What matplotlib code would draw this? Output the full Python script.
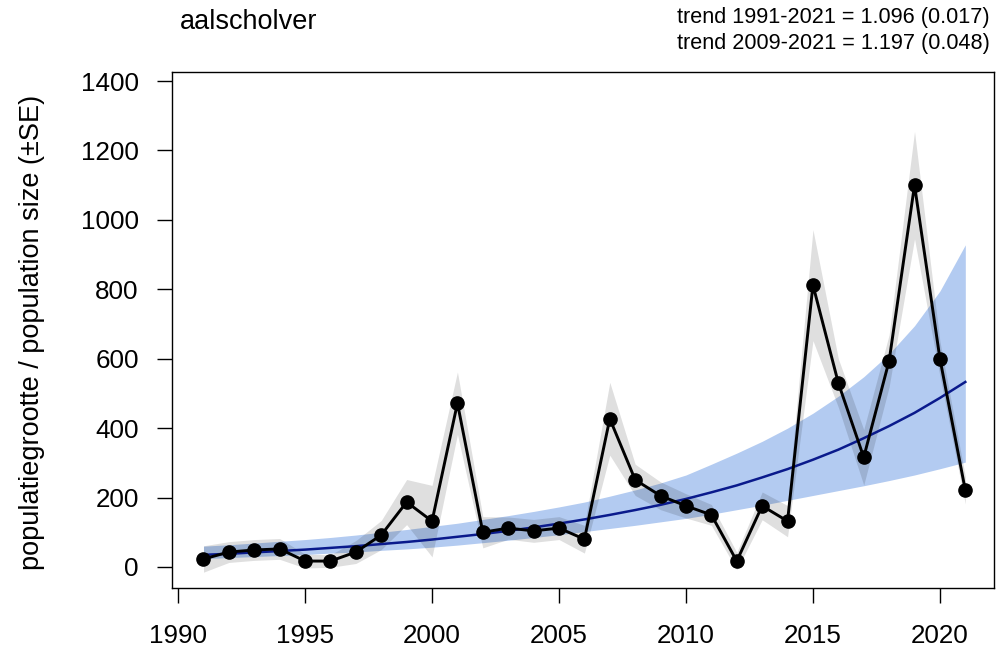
import numpy as np
import matplotlib
matplotlib.use("Agg")
import matplotlib.pyplot as plt

plt.rcParams['font.family'] = ['Liberation Sans', 'DejaVu Sans']

# jaarlijkse populatieschattingen aalscholver
years = list(range(1991, 2022))
index = [23, 43, 49, 52, 17, 17, 43, 92, 187, 132,
         472, 100, 112, 104, 112, 80, 427, 251, 205, 176,
         150, 17, 176, 132, 812, 530, 316, 594, 1100, 600,
         221]
se = [38, 30, 30, 30, 20, 18, 33, 42, 65, 103,
      90, 45, 32, 33, 33, 40, 105, 45, 40, 35,
      30, 25, 40, 45, 160, 70, 80, 75, 155, 50,
      40]

# trendlijn met betrouwbaarheidsband
trend = [35, 38, 42, 46, 50, 55, 60, 66, 72, 79,
         87, 95, 104, 114, 125, 137, 150, 164, 179, 196,
         215, 235, 258, 282, 309, 338, 371, 406, 444, 487,
         533]
trend_hi = [60, 64, 69, 74, 79, 85, 92, 100, 108, 117,
            126, 137, 148, 160, 173, 187, 204, 222, 242, 265,
            296, 328, 362, 400, 443, 492, 548, 614, 695, 795,
            928]
trend_lo = [24, 27, 30, 33, 36, 40, 43, 48, 52, 57,
            63, 70, 77, 85, 93, 102, 111, 120, 130, 140,
            152, 165, 178, 192, 206, 220, 234, 249, 265, 283,
            302]

soort = "aalscholver"
trend_tekst = ["trend 1991-2021 = 1.096 (0.017)",
               "trend 2009-2021 = 1.197 (0.048)"]

x = np.array(years)
y = np.array(index)
s = np.array(se)

fig = plt.figure(figsize=(9.96, 6.52), dpi=100)
ax = fig.add_axes([0.1727, 0.0982, 0.8253, 0.7914])

ax.fill_between(x, trend_lo, trend_hi, color="#b3cbf1", lw=0)
ax.fill_between(x, y - s, y + s, color="black", alpha=0.125, lw=0)
ax.plot(x, trend, color="#0a1a8c", lw=1.8)
ax.plot(x, y, color="black", lw=2.1, marker="o", ms=9.5)

ax.set_xlim(1989.76, 2022.13)
ax.set_ylim(-60.5, 1426)
ax.set_xticks(range(1990, 2021, 5))
ax.set_yticks(range(0, 1401, 200))
ax.tick_params(direction="out", length=11, width=1, labelsize=18.7)
ax.tick_params(axis="x", pad=15)
ax.tick_params(axis="y", pad=13)
for sp in ax.spines.values():
    sp.set_linewidth(1)
    sp.set_color("black")

ax.set_ylabel("populatiegrootte / population size (±SE)", fontsize=19.5)
ax.yaxis.set_label_coords(-0.155, 0.496)

fig.text(180 / 996, 1 - 22 / 652, soort, fontsize=19.5, ha="left", va="center")
fig.text(990 / 996, 1 - 17 / 652, trend_tekst[0], fontsize=15.6, ha="right", va="center")
fig.text(990 / 996, 1 - 43 / 652, trend_tekst[1], fontsize=15.6, ha="right", va="center")

fig.savefig("out.png", dpi=100)
